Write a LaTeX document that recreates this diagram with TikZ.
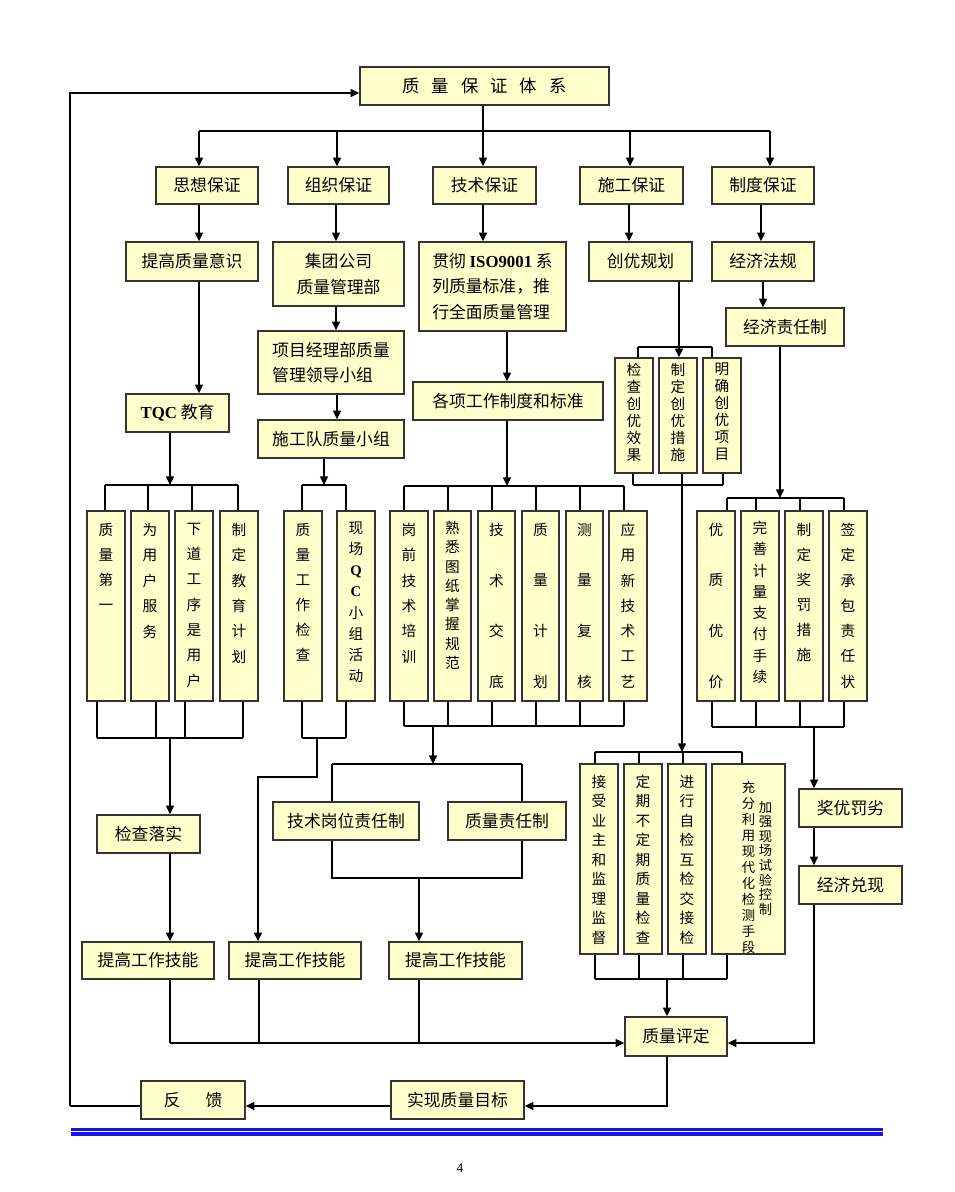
\documentclass[tikz,border=0pt]{standalone}
\usepackage{fontspec}
\setmainfont{Noto Sans CJK SC}
\newfontfamily\lat{Liberation Serif}
\usetikzlibrary{arrows.meta}
\definecolor{boxfill}{HTML}{FFFFCC}
\definecolor{rulecol}{HTML}{1414F0}
\newdimen\pxu \pxu=0.75pt
\newcommand\B[6][]{%
 \pgfmathsetmacro\cx{(#3+#5)/2}\pgfmathsetmacro\cy{(#4+#6)/2}%
 \pgfmathsetmacro\ww{#5-#3}\pgfmathsetmacro\hh{#6-#4}%
 \node[box,minimum width=\ww\pxu,minimum height=\hh\pxu,#1] (#2) at (\cx,\cy)}
\newcommand\V[8]{\B{#1}{#2}{#3}{#4}{#5}{\parbox[c][\hh\pxu][t]{\ww\pxu}{\centering\fontsize{11}{13}\selectfont\baselineskip=#6\pxu\relax\vspace*{#7\pxu}#8\par}};}
\tikzset{
 box/.style={draw=black!80, line width=1.1pt, fill=boxfill, inner sep=0pt, font=\fontsize{12.6}{19}\selectfont, align=center},
 conn/.style={line width=1pt, draw=black},
 arr/.style={conn, -{Triangle[length=6.5pt,width=6pt]}},
 bus/.style={line width=1.6pt, draw=black},
}
\begin{document}
\begin{tikzpicture}[x=0.75pt,y=-0.75pt]
\useasboundingbox (0,0) rectangle (954,1192);
% ---- boxes
\B{T}{360}{67}{609}{105}{\fontsize{13}{15}\selectfont 质\hspace{9pt}量\hspace{9pt}保\hspace{9pt}证\hspace{9pt}体\hspace{9pt}系};
\B{A1}{156}{167}{258}{204}{思想保证};
\B{A2}{288}{167}{389}{204}{组织保证};
\B{A3}{433}{167}{536}{204}{技术保证};
\B{A4}{580}{167}{683}{204}{施工保证};
\B{A5}{712}{167}{814}{204}{制度保证};
\B{B1}{126}{242}{258}{281}{提高质量意识};
\B{B2}{273}{242}{404}{306}{集团公司\\质量管理部};
\B[align=left]{B3}{419}{242}{566}{331}{贯彻 {\lat\bfseries ISO9001} 系\\列质量标准，推\\行全面质量管理};
\B{B4}{589}{242}{692}{281}{创优规划};
\B{B5}{712}{242}{814}{281}{经济法规};
\B{E1}{726}{308}{844}{346}{经济责任制};
\B[align=left]{C1}{258}{331}{404}{394}{项目经理部质量\\管理领导小组};
\B{C2}{258}{420}{404}{458}{施工队质量小组};
\B{D1}{126}{394}{229}{432}{{\lat\bfseries TQC} 教育};
\B{D2}{413}{382}{603}{420}{各项工作制度和标准};
% vertical boxes
\V{F1}{615}{358}{653}{473}{17}{5}{检\\查\\创\\优\\效\\果}
\V{F2}{659}{358}{697}{473}{17}{5}{制\\定\\创\\优\\措\\施}
\V{F3}{703}{358}{741}{473}{17}{5}{明\\确\\创\\优\\项\\目}
\V{G1}{87}{511}{125}{701}{25}{12}{质\\量\\第\\一}
\V{G2}{131}{511}{169}{701}{25.5}{12}{为\\用\\户\\服\\务}
\V{G3}{175}{511}{213}{701}{25.3}{12}{下\\道\\工\\序\\是\\用\\户}
\V{G4}{220}{511}{258}{701}{25.4}{12}{制\\定\\教\\育\\计\\划}
\V{H1}{284}{511}{322}{701}{25}{12}{质\\量\\工\\作\\检\\查}
\V{H2}{337}{511}{375}{701}{21.1}{11}{现\\场\\{\lat\bfseries Q}\\{\lat\bfseries C}\\小\\组\\活\\动}
\V{I1}{390}{511}{428}{701}{25.4}{12}{岗\\前\\技\\术\\培\\训}
\V{I2}{434}{511}{471}{701}{19.3}{10}{熟\\悉\\图\\纸\\掌\\握\\规\\范}
\V{I3}{478}{511}{515}{701}{50.7}{12}{技\\术\\交\\底}
\V{I4}{522}{511}{559}{701}{50.7}{12}{质\\量\\计\\划}
\V{I5}{566}{511}{603}{701}{50.7}{12}{测\\量\\复\\核}
\V{I6}{609}{511}{647}{701}{25.3}{12}{应\\用\\新\\技\\术\\工\\艺}
\V{K1}{697}{511}{735}{701}{50.7}{12}{优\\质\\优\\价}
\V{K2}{741}{511}{779}{701}{21.3}{10}{完\\善\\计\\量\\支\\付\\手\\续}
\V{K3}{785}{511}{823}{701}{25}{12}{制\\定\\奖\\罚\\措\\施}
\V{K4}{829}{511}{867}{701}{25.3}{12}{签\\定\\承\\包\\责\\任\\状}
\V{M1}{580}{764}{618}{954}{19.5}{11}{接\\受\\业\\主\\和\\监\\理\\监\\督}
\V{M2}{624}{764}{662}{954}{19.5}{11}{定\\期\\不\\定\\期\\质\\量\\检\\查}
\V{M3}{668}{764}{706}{954}{19.5}{11}{进\\行\\自\\检\\互\\检\\交\\接\\检}
\B{M4}{712}{764}{785}{954}{\parbox[c][\hh\pxu][t]{\ww\pxu}{\fontsize{10}{12}\selectfont\hspace*{28\pxu}\parbox[t]{17\pxu}{\centering\baselineskip=16\pxu\relax\vspace*{17\pxu}充\\分\\利\\用\\现\\代\\化\\检\\测\\手\\段\par}\parbox[t]{17\pxu}{\centering\baselineskip=14.6\pxu\relax\vspace*{37\pxu}加\\强\\现\\场\\试\\验\\控\\制\par}\hfill\par}};
\B{N1}{97}{815}{200}{853}{检查落实};
\B{J1}{273}{802}{419}{840}{技术岗位责任制};
\B{J2}{448}{802}{566}{840}{质量责任制};
\B{P1}{82}{942}{214}{979}{提高工作技能};
\B{P2}{229}{942}{361}{979}{提高工作技能};
\B{P3}{389}{942}{522}{979}{提高工作技能};
\B{L1}{799}{789}{902}{827}{奖优罚劣};
\B{L2}{799}{866}{902}{904}{经济兑现};
\B{Q}{625}{1017}{727}{1056}{质量评定};
\B{R1}{391}{1081}{524}{1119}{实现质量目标};
\B{R2}{141}{1081}{245}{1119}{反\hspace{1.5em}馈};
% ---- connectors
\draw[conn] (T.south -| 483,0) -- (483,131);
\draw[bus] (199,131) -- (770,131);
\foreach \x/\n in {199/A1,337/A2,483/A3,630/A4,770/A5} \draw[arr] (\x,131) -- (\x,131 |- \n.north);
\foreach \x/\a/\b in {199/A1/B1,336/A2/B2,483/A3/B3,629/A4/B4,761/A5/B5} \draw[arr] (\a.south -| \x,0) -- (\b.north -| \x,0);
\draw[arr] (B5.south -| 763,0) -- (E1.north -| 763,0);
\draw[arr] (B2.south -| 336,0) -- (C1.north -| 336,0);
\draw[arr] (C1.south -| 337,0) -- (C2.north -| 337,0);
\draw[arr] (B1.south -| 199,0) -- (D1.north -| 199,0);
\draw[arr] (B3.south -| 507,0) -- (D2.north -| 507,0);
% 创优
\draw[bus] (638,347) -- (712,347);
\draw[conn] (638,347) -- (638,347 |- F1.north);
\draw[conn] (712,347) -- (712,347 |- F3.north);
\draw[arr] (B4.south -| 679,0) -- (F2.north -| 679,0);
\draw[bus] (633,485) -- (723,485);
\draw[conn] (F1.south -| 633,0) -- (633,485);
\draw[conn] (F3.south -| 723,0) -- (723,485);
\draw[arr] (F2.south -| 682,0) -- (682,752);
% TQC
\draw[arr] (D1.south -| 170,0) -- (170,485);
\draw[bus] (105,485) -- (238,485);
\foreach \x/\n in {105/G1,148/G2,192/G3,238/G4} \draw[conn] (\x,485) -- (\x,485 |- \n.north);
\draw[bus] (97,738) -- (243,738);
\foreach \x/\n in {97/G1,156/G2,185/G3,243/G4} \draw[conn] (\x,738 |- \n.south) -- (\x,738);
\draw[arr] (170,738) -- (170,738 |- N1.north);
\draw[arr] (N1.south -| 170,0) -- (P1.north -| 170,0);
% 施工队
\draw[arr] (C2.south -| 324,0) -- (324,485);
\draw[bus] (302,485) -- (346,485);
\draw[conn] (302,485) -- (302,485 |- H1.north);
\draw[conn] (346,485) -- (346,485 |- H2.north);
\draw[bus] (302,738) -- (346,738);
\draw[conn] (302,738 |- H1.south) -- (302,738);
\draw[conn] (346,738 |- H2.south) -- (346,738);
\draw[arr] (317,738) -- (317,777) -- (258,777) -- (258,777 |- P2.north);
% 各项工作
\draw[arr] (D2.south -| 507,0) -- (507,486);
\draw[bus] (404,486) -- (624,486);
\draw[bus] (404,726) -- (624,726);
\foreach \x/\n in {404/I1,448/I2,492/I3,536/I4,580/I5,624/I6} {\draw[conn] (\x,486) -- (\x,486 |- \n.north); \draw[conn] (\x,726 |- \n.south) -- (\x,726);}
\draw[arr] (433,726) -- (433,764);
\draw[bus] (332,764) -- (522,764);
\draw[conn] (332,764) -- (332,764 |- J1.north);
\draw[conn] (522,764) -- (522,764 |- J2.north);
\draw[conn] (J1.south -| 332,0) -- (332,878) -- (522,878) -- (J2.south -| 522,0);
\draw[arr] (419,878) -- (419,878 |- P3.north);
% 经济责任制
\draw[arr] (E1.south -| 780,0) -- (780,498);
\draw[bus] (727,498) -- (844,498);
\foreach \x/\n in {727/K1,756/K2,800/K3,844/K4} \draw[conn] (\x,498) -- (\x,498 |- \n.north);
\draw[bus] (712,727) -- (844,727);
\foreach \x/\n in {712/K1,756/K2,800/K3,844/K4} \draw[conn] (\x,727 |- \n.south) -- (\x,727);
\draw[arr] (814,727) -- (814,727 |- L1.north);
\draw[arr] (L1.south -| 814,0) -- (L2.north -| 814,0);
\draw[arr] (L2.south -| 814,0) -- (814,1043) -- (814,1043 -| Q.east);
% 检查组
\draw[bus] (595,752) -- (742,752);
\foreach \x/\n in {595/M1,639/M2,683/M3,742/M4} \draw[conn] (\x,752) -- (\x,752 |- \n.north);
\draw[bus] (595,979) -- (727,979);
\foreach \x/\n in {595/M1,639/M2,683/M3,727/M4} \draw[conn] (\x,979 |- \n.south) -- (\x,979);
\draw[arr] (667,979) -- (667,979 |- Q.north);
% to 质量评定
\draw[conn] (P1.south -| 170,0) -- (170,1043);
\draw[conn] (P2.south -| 259,0) -- (259,1043);
\draw[conn] (P3.south -| 419,0) -- (419,1043);
\draw[arr] (170,1043) -- (170,1043 -| Q.west);
\draw[arr] (Q.south -| 667,0) -- (667,1106) -- (667,1106 -| R1.east);
\draw[arr] (R1.west |- 0,1106) -- (R2.east |- 0,1106);
\draw[line width=2pt] (R2.west |- 0,1106) -- (70,1106);
\draw[arr] (70,1106) -- (70,93) -- (T.west |- 0,93);
% footer
\fill[rulecol] (71,1128) rectangle (883,1130.7);
\fill[rulecol] (71,1131.7) rectangle (883,1135.7);
\node[font=\lat\fontsize{10}{12}\selectfont] (pg) at (460,1168) {4};
\end{tikzpicture}
\end{document}
